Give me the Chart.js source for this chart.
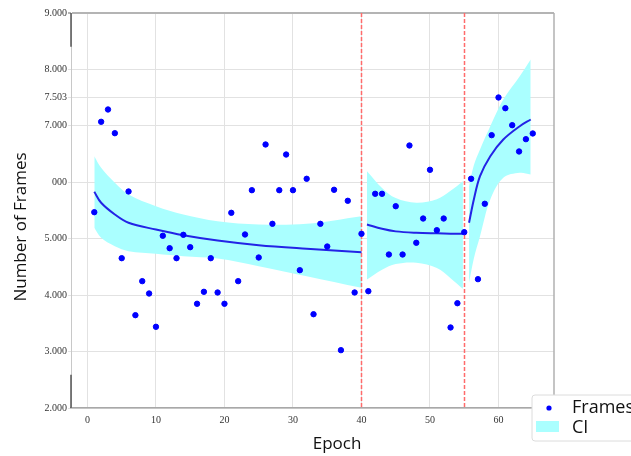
<!DOCTYPE html>
<html>
<head>
<meta charset="utf-8">
<script src="https://cdn.jsdelivr.net/npm/chart.js@4.4.0/dist/chart.umd.min.js"></script>
<style>
html, body { margin: 0; padding: 0; background: #fff; }
</style>
</head>
<body>
<canvas id="frameCanvas" width="631" height="456"></canvas>
<script>
// raw observations
const epochs = [1, 2, 3, 4, 5, 6, 7, 8, 9, 10, 11, 12, 13, 14, 15, 16, 17, 18, 19, 20,
    21, 22, 23, 24, 25, 26, 27, 28, 29, 30, 31, 32, 33, 34, 35, 36, 37, 38, 39, 40,
    41, 42, 43, 44, 45, 46, 47, 48, 49, 50, 51, 52, 53, 54, 55, 56, 57, 58, 59, 60,
    61, 62, 63, 64, 65];
const frames = [5470, 7072, 7290, 6870, 4655, 5837, 3645, 4248, 4029, 3439,
    5052, 4832, 4655, 5069, 4850, 3847, 4059, 4655, 4047, 3847,
    5459, 4248, 5075, 5860, 4667, 6670, 5264, 5860, 6492, 5860,
    4442, 6062, 3662, 5264, 4862, 5867, 3025, 5672, 4047, 5087,
    4070, 5796, 5796, 4720, 5576, 4720, 6652, 4928, 5358, 6221,
    5151, 5358, 3427, 3857, 5116, 6062, 4283, 5619, 6835, 7503,
    7313, 7012, 6546, 6764, 6865];

// fitted curves and confidence bands, one per phase
const fitEpochs1 = [1, 2, 4, 6, 10, 14, 19, 25, 32, 40];
const fitLine1 = [5831, 5637, 5429, 5282, 5163, 5062, 4968, 4885, 4822, 4760];
const fitUpper1 = [6463, 6257, 5991, 5784, 5576, 5429, 5310, 5252, 5264, 5399];
const fitLower1 = [5194, 5016, 4867, 4779, 4733, 4690, 4650, 4513, 4336, 4130];

const fitEpochs2 = [40.8, 43, 45, 48, 51, 53, 54.8];
const fitLine2 = [5252, 5176, 5130, 5105, 5095, 5090, 5087];
const fitUpper2 = [6197, 5900, 5720, 5637, 5700, 5850, 6020];
const fitLower2 = [4277, 4450, 4550, 4573, 4480, 4300, 4112];

const fitEpochs3 = [55.7, 56.4, 57.3, 58.8, 60.7, 63.1, 64.7];
const fitLine3 = [5282, 5695, 6108, 6462, 6758, 6994, 7113];
const fitUpper3 = [5931, 6300, 6581, 6994, 7467, 7880, 8176];
const fitLower3 = [4219, 4650, 5045, 5695, 6080, 6168, 6138];

const splitEpochs = [40, 55];

const xTickValues = [0, 10, 20, 30, 40, 50, 60];
const yTickValues = [2000, 3000, 4000, 5000, 6000, 7000, 7503, 8000, 9000];
const yTickLabels = ["2.000", "3.000", "4.000", "5.000", "000", "7.000", "7.503", "8.000", "9.000"];

const BLUE = "#0000ff";
const LINE_BLUE = "#2323e6";
const CYAN = "#aaffff";

function pairs(xs, ys) {
    return xs.map((x, i) => ({ x: x, y: ys[i] }));
}

function fitLine(xs, ys) {
    return {
        data: pairs(xs, ys), showLine: true, pointRadius: 0, borderColor: LINE_BLUE,
        borderWidth: 2, tension: 0.35, fill: false, order: 1
    };
}

function bandEdge(xs, ys, fillTarget, order) {
    return {
        data: pairs(xs, ys), showLine: true, pointRadius: 0, borderWidth: 0,
        borderColor: "rgba(0,0,0,0)", backgroundColor: CYAN, tension: 0.35,
        fill: fillTarget, order: order
    };
}

const decorations = {
    id: "decorations",
    afterDatasetDraw(chart, args) {
        // dashed phase separators sit above the bands but below curves and points
        if (args.index !== 7) return;
        const { ctx, chartArea, scales: { x } } = chart;
        ctx.save();
        ctx.strokeStyle = "#ff6b6b";
        ctx.lineWidth = 1.5;
        ctx.setLineDash([4, 2]);
        splitEpochs.forEach(e => {
            const px = Math.round(x.getPixelForValue(e)) + 0.5;
            ctx.beginPath();
            ctx.moveTo(px, chartArea.top);
            ctx.lineTo(px, chartArea.bottom);
            ctx.stroke();
        });
        ctx.restore();
    },
    afterDraw(chart) {
        const { ctx, chartArea, scales: { y } } = chart;
        ctx.save();
        // right frame edge
        ctx.strokeStyle = "#b0b0b0";
        ctx.lineWidth = 1.5;
        ctx.beginPath();
        ctx.moveTo(chartArea.right, chartArea.top);
        ctx.lineTo(chartArea.right, chartArea.bottom);
        ctx.stroke();
        // darker stubs of the left spine
        ctx.strokeStyle = "#555";
        ctx.lineWidth = 1.5;
        [[8400, 9000], [2000, 2590]].forEach(r => {
            ctx.beginPath();
            ctx.moveTo(chartArea.left, y.getPixelForValue(r[0]));
            ctx.lineTo(chartArea.left, y.getPixelForValue(r[1]));
            ctx.stroke();
        });

        // axis titles
        ctx.fillStyle = "#111";
        ctx.font = "17px 'Open Sans'";
        ctx.textAlign = "center";
        ctx.textBaseline = "alphabetic";
        ctx.fillText("Epoch", 337, 449);
        ctx.save();
        ctx.translate(26, 227);
        ctx.rotate(-Math.PI / 2);
        ctx.fillText("Number of Frames", 0, 0);
        ctx.restore();

        // legend
        ctx.fillStyle = "#fff";
        ctx.strokeStyle = "#dcdcdc";
        ctx.lineWidth = 1;
        ctx.beginPath();
        ctx.roundRect(532, 395, 110, 46, 3);
        ctx.fill();
        ctx.stroke();
        ctx.fillStyle = BLUE;
        ctx.beginPath();
        ctx.arc(549, 408, 2.6, 0, Math.PI * 2);
        ctx.fill();
        ctx.fillStyle = CYAN;
        ctx.fillRect(536, 421, 23, 11);
        ctx.fillStyle = "#111";
        ctx.font = "18px 'Open Sans'";
        ctx.textAlign = "left";
        ctx.fillText("Frames", 572, 413);
        ctx.fillText("CI", 572, 433);
        ctx.restore();
    }
};

const frameChart = new Chart(document.getElementById("frameCanvas"), {
    type: "scatter",
    data: {
        datasets: [
            {
                label: "Frames", data: pairs(epochs, frames), backgroundColor: BLUE,
                borderColor: BLUE, pointRadius: 2.7, pointHoverRadius: 2.7, order: 0
            },
            fitLine(fitEpochs1, fitLine1),
            fitLine(fitEpochs2, fitLine2),
            fitLine(fitEpochs3, fitLine3),
            bandEdge(fitEpochs1, fitLower1, false, 3),
            bandEdge(fitEpochs2, fitLower2, false, 3),
            bandEdge(fitEpochs3, fitLower3, false, 3),
            bandEdge(fitEpochs1, fitUpper1, 4, 2),
            bandEdge(fitEpochs2, fitUpper2, 5, 2),
            bandEdge(fitEpochs3, fitUpper3, 6, 2)
        ]
    },
    options: {
        responsive: false,
        devicePixelRatio: 1,
        animation: false,
        layout: { padding: { left: 0, right: 77, top: 13, bottom: 0 } },
        plugins: {
            legend: { display: false },
            tooltip: { enabled: false }
        },
        scales: {
            x: {
                type: "linear",
                min: -2.4,
                max: 68.1,
                afterBuildTicks: scale => { scale.ticks = xTickValues.map(v => ({ value: v })); },
                afterFit: scale => { scale.height = 48; },
                grid: { color: "#e2e2e2", lineWidth: 1, drawTicks: false },
                border: { color: "#a8a8a8", width: 1.5 },
                ticks: {
                    padding: 6,
                    color: "#333",
                    font: { family: "'Liberation Serif'", size: 10 }
                }
            },
            y: {
                type: "linear",
                min: 2000,
                max: 9000,
                afterBuildTicks: scale => { scale.ticks = yTickValues.map(v => ({ value: v })); },
                afterFit: scale => { scale.width = 71; },
                grid: {
                    color: ctx => (ctx.tick && ctx.tick.value === 9000) ? "#b4b4b4" : "#e2e2e2",
                    lineWidth: ctx => (ctx.tick && ctx.tick.value === 9000) ? 2 : 1,
                    tickLength: 3
                },
                border: { color: "#c8c8c8", width: 1 },
                ticks: {
                    padding: 1,
                    color: "#333",
                    font: { family: "'Liberation Serif'", size: 10 },
                    callback: value => {
                        const i = yTickValues.indexOf(value);
                        return i >= 0 ? yTickLabels[i] : "";
                    }
                }
            }
        }
    },
    plugins: [decorations]
});
</script>
</body>
</html>
